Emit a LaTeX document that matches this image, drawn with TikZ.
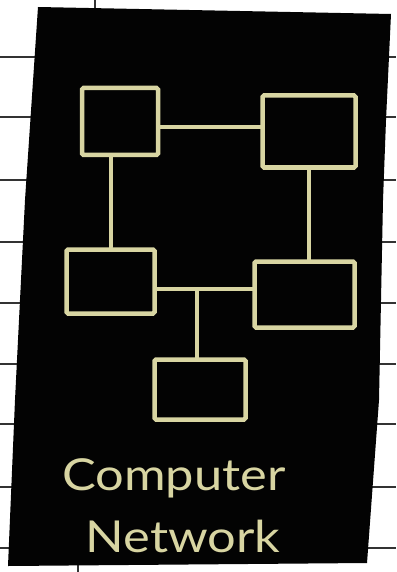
\documentclass[tikz,border=0pt]{standalone}
\usepackage{fontspec}
\usepackage{xcolor}
\newfontfamily\handfont{Lato}
\definecolor{ChalkGold}{HTML}{D8D5A2}
\definecolor{CardBlack}{HTML}{030303}
\definecolor{RuleGray}{HTML}{333333}
\tikzset{
  netbox/.style={
    draw=ChalkGold,
    line width=4.5pt,
    rounded corners=1.5pt,
    inner sep=0pt
  },
  netlink/.style={draw=ChalkGold, line width=4pt, line cap=round},
  paperrule/.style={draw=RuleGray, line width=1.4pt}
}
\begin{document}
\begin{tikzpicture}[x=1pt, y=-1pt]
  \useasboundingbox[fill=white] (0,0) rectangle (396,572);
  % ruled paper behind the card
  \foreach \ry in {57,117,180,242,303,364,424,487,548}
    \draw[paperrule] (0,\ry) -- (396,\ry);
  \draw[paperrule] (95,0) -- (95,10);
  \draw[paperrule] (78,560) -- (78,572);
  % black card
  \fill[CardBlack] (38,7) -- (391,14) -- (386,120) -- (383,200) -- (379,400)
    -- (367,563) -- (8,566) -- (15,400) -- (25,200) -- cycle;
  % computers
  \node[netbox, minimum width=76pt, minimum height=67pt] (pcA) at (120,121.5) {};
  \node[netbox, minimum width=93pt, minimum height=72pt] (pcB) at (309,131.5) {};
  \node[netbox, minimum width=88pt, minimum height=64pt] (pcC) at (110.5,281.5) {};
  \node[netbox, minimum width=100pt, minimum height=66pt] (pcD) at (304.5,294.5) {};
  \node[netbox, minimum width=91pt, minimum height=60pt] (pcE) at (200,389.5) {};
  \coordinate (topbus) at (210,127);
  \coordinate (hub) at (197,289);
  % cables
  \draw[netlink] (pcA.east |- topbus) -- (pcB.west |- topbus);
  \draw[netlink] (pcA.south -| pcC.north) -- (pcC.north);
  \draw[netlink] (pcB.south) -- (pcB.south |- pcD.north);
  \draw[netlink] (pcC.east |- hub) -- (pcD.west |- hub);
  \draw[netlink] (hub) -- (hub |- pcE.north);
  % caption
  \node[text=ChalkGold, font=\handfont\fontsize{44}{62}\selectfont, align=center,
    xscale=1.15] (caption) at (174,506) {Computer\\\hspace*{16pt}Network};
\end{tikzpicture}
\end{document}
